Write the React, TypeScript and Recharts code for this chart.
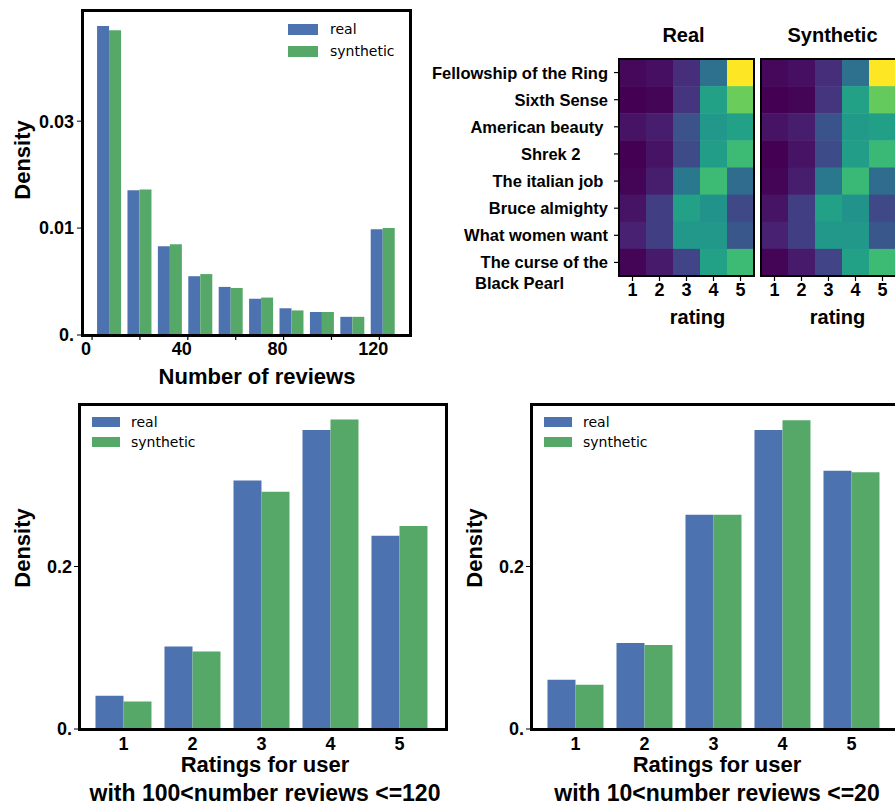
import React from "react";
import { BarChart, Bar, XAxis, YAxis, Legend, ScatterChart, Scatter } from "recharts";

// ---- histogram of reviews per user ----
const binCenters = [7.3, 20.0, 32.7, 45.4, 58.1, 70.8, 83.5, 96.2, 108.9, 121.6];
const histReal = [0.0289, 0.01355, 0.0083, 0.0055, 0.0045, 0.0034, 0.0025, 0.00215, 0.0017, 0.0099];
const histSynth = [0.0285, 0.0136, 0.0085, 0.0057, 0.0044, 0.0035, 0.0023, 0.00215, 0.0017, 0.01];
const histXTicks = [0, 20, 40, 60, 80, 100, 120];
const histYTicks = [0, 0.01, 0.02];
const histYLabels = ["0.", "0.01", "0.03"];

// ---- rating heatmaps (normalised 0..1) ----
const movies = [
  "Fellowship of the Ring",
  "Sixth Sense",
  "American beauty ",
  "Shrek 2      ",
  "The italian job ",
  "Bruce almighty",
  "What women want",
  "The curse of the\nBlack Pearl",
];
const ratings = [1, 2, 3, 4, 5];
const heatReal = [
  [0.02, 0.04, 0.13, 0.37, 1.0],
  [0.0, 0.01, 0.15, 0.57, 0.77],
  [0.05, 0.08, 0.25, 0.53, 0.57],
  [0.0, 0.05, 0.23, 0.55, 0.68],
  [0.01, 0.08, 0.4, 0.68, 0.35],
  [0.05, 0.18, 0.57, 0.51, 0.22],
  [0.09, 0.18, 0.53, 0.53, 0.27],
  [0.01, 0.07, 0.2, 0.57, 0.68],
];
const heatSynth = [
  [0.02, 0.04, 0.13, 0.37, 1.0],
  [0.0, 0.01, 0.15, 0.57, 0.76],
  [0.05, 0.08, 0.26, 0.54, 0.56],
  [0.0, 0.05, 0.23, 0.55, 0.67],
  [0.01, 0.08, 0.4, 0.67, 0.35],
  [0.05, 0.18, 0.57, 0.51, 0.22],
  [0.09, 0.18, 0.53, 0.53, 0.27],
  [0.01, 0.07, 0.2, 0.57, 0.68],
];

// ---- ratings per user ----
const ratingLabels = ["1", "2", "3", "4", "5"];
const heavyReal = [0.041, 0.1015, 0.306, 0.368, 0.238];
const heavySynth = [0.034, 0.0954, 0.292, 0.381, 0.25];
const lightReal = [0.0606, 0.1058, 0.2636, 0.368, 0.318];
const lightSynth = [0.0544, 0.1034, 0.2636, 0.38, 0.316];
const densityTicks = [0, 0.2];
const densityLabels = ["0.", "0.2"];

const BLUE = "#4c72b0";
const GREEN = "#55a868";
const FONT = "'Liberation Sans', Arial, sans-serif";
const LEGEND_FONT = "'DejaVu Sans', sans-serif";

const VIRIDIS = [
  "#440154", "#482475", "#414487", "#355f8d", "#2a788e", "#21918c",
  "#22a884", "#44bf70", "#7ad151", "#bddf26", "#fde725",
];

const viridis = (t: number) => {
  const v = Math.max(0, Math.min(1, t)) * 10;
  const i = Math.min(9, Math.floor(v));
  const f = v - i;
  const a = parseInt(VIRIDIS[i].slice(1), 16);
  const b = parseInt(VIRIDIS[i + 1].slice(1), 16);
  const mix = (s: number) => Math.round(((a >> s) & 255) * (1 - f) + ((b >> s) & 255) * f);
  return `rgb(${mix(16)},${mix(8)},${mix(0)})`;
};

const tickStyle = { fill: "#000", fontSize: 18, fontWeight: 700, fontFamily: FONT };
const titleStyle = { fill: "#000", fontSize: 22, fontWeight: 700, fontFamily: FONT };

const Frame = ({ x, y, w, h, t = 3 }: { x: number; y: number; w: number; h: number; t?: number }) => (
  <div
    style={{
      position: "absolute",
      left: x - t / 2,
      top: y - t / 2,
      width: w + t,
      height: h + t,
      border: `${t}px solid #000`,
      boxSizing: "border-box",
      pointerEvents: "none",
    }}
  />
);

const LegendBox = ({ sw, sh, row, gap }: { sw: number; sh: number; row: number; gap: number }) => (
  <div style={{ fontFamily: LEGEND_FONT, fontSize: 14, color: "#000" }}>
    {[
      ["real", BLUE],
      ["synthetic", GREEN],
    ].map(([name, c]) => (
      <div key={name} style={{ display: "flex", alignItems: "center", height: row }}>
        <span style={{ display: "inline-block", width: sw, height: sh, background: c, marginRight: gap }} />
        {name}
      </div>
    ))}
  </div>
);

const yTitle = (x: number, y: number) => ({
  content: () => (
    <text x={x} y={y} transform={`rotate(-90 ${x} ${y})`} textAnchor="middle" dominantBaseline="central" style={titleStyle}>
      Density
    </text>
  ),
});

const xTitle = (lines: string[], x: number, y: number, sizes = [22, 23]) => ({
  content: () => (
    <g>
      {lines.map((l, i) => (
        <text key={i} x={x} y={y + i * 29} textAnchor="middle" style={{ ...titleStyle, fontSize: sizes[i] }}>
          {l}
        </text>
      ))}
    </g>
  ),
});

const MovieTick = (props: any) => {
  const { x, y, payload } = props;
  const lines = movies[payload.value - 1].split("\n");
  return (
    <g>
      <text x={x} y={y} textAnchor="end" dominantBaseline="central" style={{ ...tickStyle, fontSize: 16.5, whiteSpace: "pre" }}>
        {lines[0]}
      </text>
      {lines[1] && (
        <text x={x - 133} y={y + 21} textAnchor="start" dominantBaseline="central" style={{ ...tickStyle, fontSize: 16.5 }}>
          {lines[1]}
        </text>
      )}
    </g>
  );
};

const CELL_W = 27;
const CELL_H = 27.125;

const Heatmap = ({ values, showRows, title }: { values: number[][]; showRows: boolean; title: string }) => {
  const cells = values.flatMap((row, r) => row.map((v, c) => ({ col: ratings[c], row: r + 1, v })));
  const yw = showRows ? 199 : 0;
  const left = showRows ? 0 : 6;
  const mid = yw + left + 67.5;
  return (
    <ScatterChart width={yw + left + 141} height={340} margin={{ top: 59, right: 6, bottom: 0, left }}>
      <XAxis
        type="number"
        dataKey="col"
        domain={[0.5, 5.5]}
        ticks={ratings}
        height={64}
        axisLine={false}
        tickLine={{ stroke: "#000", strokeWidth: 1.2 }}
        tickSize={5}
        tick={tickStyle}
        label={{
          content: () => (
            <g>
              <text x={mid + (showRows ? 11 : 9)} y={324} textAnchor="middle" style={{ ...titleStyle, fontSize: 20 }}>
                rating
              </text>
              <text x={mid + (showRows ? -3 : 4)} y={35} textAnchor="middle" dominantBaseline="central" style={{ ...titleStyle, fontSize: 20 }}>
                {title}
              </text>
            </g>
          ),
        }}
      />
      <YAxis
        type="number"
        dataKey="row"
        domain={[0.5, 8.5]}
        reversed
        ticks={[1, 2, 3, 4, 5, 6, 7, 8]}
        width={yw}
        hide={!showRows}
        axisLine={false}
        tickLine={{ stroke: "#000", strokeWidth: 1.2 }}
        tickSize={5}
        tickMargin={6}
        tick={(p: any) => <MovieTick {...p} />}
      />
      <Scatter
        data={cells}
        isAnimationActive={false}
        shape={(p: any) => (
          <rect x={p.cx - CELL_W / 2} y={p.cy - CELL_H / 2} width={CELL_W} height={CELL_H + 0.5} fill={viridis(p.payload.v)} />
        )}
      />
    </ScatterChart>
  );
};

const RatingBars = ({ real, synth, xLines, yw, right, legendLeft }: any) => {
  const data = ratingLabels.map((r, i) => ({ rating: r, real: real[i], synthetic: synth[i] }));
  return (
    <BarChart width={450} height={415} data={data} margin={{ top: 9, right, bottom: 0, left: 0 }} barGap={0} barCategoryGap="9.4%">
      <XAxis
        dataKey="rating"
        height={415 - 9 - 325}
        padding={{ left: 10, right: 12 }}
        tickLine={false}
        axisLine={{ stroke: "#000" }}
        tick={tickStyle}
        label={xTitle(xLines, yw + 186, 377)}
      />
      <YAxis
        domain={[0, 0.4]}
        ticks={densityTicks}
        tickFormatter={(v: number) => densityLabels[densityTicks.indexOf(v)] ?? ""}
        width={yw}
        axisLine={false}
        tickLine={{ stroke: "#000" }}
        tickSize={5}
        tick={tickStyle}
        label={yTitle(yw - 57, 153)}
      />
      <Legend
        layout="horizontal"
        verticalAlign="middle"
        wrapperStyle={{ left: legendLeft, top: 17, width: "auto" }}
        content={() => <LegendBox sw={28} sh={10} row={20} gap={11} />}
      />
      <Bar dataKey="real" fill={BLUE} isAnimationActive={false} />
      <Bar dataKey="synthetic" fill={GREEN} isAnimationActive={false} />
    </BarChart>
  );
};

export default function App() {
  const histData = binCenters.map((b, i) => ({ bin: b, real: histReal[i], synthetic: histSynth[i] }));
  return (
    <div style={{ position: "absolute", left: 0, top: 0, width: 895, height: 810, overflow: "hidden", background: "#fff" }}>
      <div style={{ position: "absolute", left: 0, top: 0 }}>
        <BarChart width={420} height={390} data={histData} margin={{ top: 10, right: 10, bottom: 0, left: 0 }} barGap={0} barCategoryGap="9%">
          <XAxis
            dataKey="bin"
            type="number"
            domain={[-4.2, 132.8]}
            allowDataOverflow
            ticks={histXTicks}
            tickFormatter={(v: number) => (v % 40 === 0 ? String(v) : "")}
            height={55}
            axisLine={{ stroke: "#000" }}
            tickLine={{ stroke: "#000", strokeWidth: 1.2 }}
            tickSize={5}
            tick={{ ...tickStyle, dx: -6 }}
            label={xTitle(["Number of reviews"], 257, 384)}
          />
          <YAxis
            type="number"
            domain={[0, 0.0304]}
            allowDataOverflow
            ticks={histYTicks}
            tickFormatter={(v: number) => histYLabels[histYTicks.indexOf(v)] ?? ""}
            width={82}
            axisLine={false}
            tickLine={{ stroke: "#000" }}
            tickSize={5}
            tickMargin={3}
            tick={tickStyle}
            label={yTitle(22, 160)}
          />
          <Legend
            layout="horizontal"
            verticalAlign="middle"
            wrapperStyle={{ left: 288, top: 18, width: "auto" }}
            content={() => <LegendBox sw={30} sh={11} row={22} gap={12} />}
          />
          <Bar dataKey="real" fill={BLUE} isAnimationActive={false} />
          <Bar dataKey="synthetic" fill={GREEN} isAnimationActive={false} />
        </BarChart>
      </div>
      <Frame x={82} y={10} w={328} h={325} />

      <div style={{ position: "absolute", left: 420, top: 0 }}>
        <Heatmap values={heatReal} showRows title="Real" />
      </div>
      <div style={{ position: "absolute", left: 755, top: 0 }}>
        <Heatmap values={heatSynth} showRows={false} title="Synthetic" />
      </div>
      <Frame x={619} y={59} w={135} h={217} t={2} />
      <Frame x={761} y={59} w={135} h={217} t={2} />

      <div style={{ position: "absolute", left: 0, top: 395 }}>
        <RatingBars
          real={heavyReal}
          synth={heavySynth}
          xLines={["Ratings for user", "with 100<number reviews <=120"]}
          yw={79}
          right={4}
          legendLeft={92}
        />
      </div>
      <Frame x={79} y={404} w={367} h={325} />

      <div style={{ position: "absolute", left: 450, top: 395 }}>
        <RatingBars
          real={lightReal}
          synth={lightSynth}
          xLines={["Ratings for user", "with 10<number reviews <=20"]}
          yw={81}
          right={2}
          legendLeft={94}
        />
      </div>
      <Frame x={531} y={404} w={367} h={325} />
    </div>
  );
}
